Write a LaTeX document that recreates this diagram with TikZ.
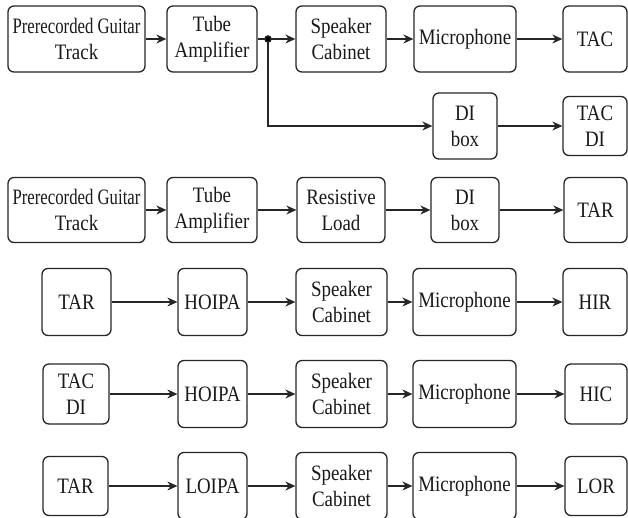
\documentclass[tikz,border=0pt]{standalone}
\usepackage{fontspec}
\usepackage{graphicx}
\setmainfont{Liberation Serif}[FakeStretch=0.86]
\usetikzlibrary{arrows.meta}
\definecolor{ln}{HTML}{262626}
\begin{document}
\begin{tikzpicture}[x=1pt,y=-1pt,
  bx/.style={draw=ln,line width=1.3pt,rounded corners=6pt,align=center,inner sep=0pt,
    text=black!90,font=\fontsize{22}{26}\selectfont},
  ar/.style={draw=ln,line width=1.2pt,-{Stealth[length=10pt,width=9pt]}},
  ln/.style={draw=ln,line width=1.2pt}]
\useasboundingbox (0,0) rectangle (628,517);
\newcommand{\pgt}{\scalebox{0.885}[1]{Prerecorded Guitar}\\Track}
% Row 1
\node[bx,minimum width=137pt,minimum height=66pt] (p1) at (76.5,39) {\pgt};
\node[bx,minimum width=90pt,minimum height=66pt] (t1) at (212,39) {Tube\\Amplifier};
\node[bx,minimum width=90pt,minimum height=66pt] (s1) at (341,39) {Speaker\\Cabinet};
\node[bx,minimum width=102pt,minimum height=66pt] (m1) at (465,39) {Microphone};
\node[bx,minimum width=64pt,minimum height=66pt] (tac) at (595,39) {TAC};
\coordinate (j) at (268,39);
% Row 2
\node[bx,minimum width=64pt,minimum height=66pt] (di1) at (465,126) {DI\\box};
\node[bx,minimum width=64pt,minimum height=59pt] (tacdi) at (595,126) {TAC\\DI};
\draw[ar] (p1) -- (t1);
\draw[ln] (t1) -- (j);
\draw[ar] (j) -- (s1);
\draw[ar] (s1) -- (m1);
\draw[ar] (m1) -- (tac);
\draw[ar] (j) |- (di1);
\draw[ar] (di1) -- (tacdi);
\fill[ln] (j) circle (3.2pt);
% Row 3
\node[bx,minimum width=137pt,minimum height=65pt] (p3) at (76.5,210) {\pgt};
\node[bx,minimum width=90pt,minimum height=65pt] (t3) at (212,210) {Tube\\Amplifier};
\node[bx,minimum width=88pt,minimum height=65pt] (r3) at (341,210) {Resistive\\Load};
\node[bx,minimum width=68pt,minimum height=65pt] (d3) at (465,210) {DI\\box};
\node[bx,minimum width=63pt,minimum height=65pt] (tar3) at (595.5,210) {TAR};
\draw[ar] (p3) -- (t3);
\draw[ar] (t3) -- (r3);
\draw[ar] (r3) -- (d3);
\draw[ar] (d3) -- (tar3);
% Row 4
\node[bx,minimum width=69pt,minimum height=67pt] (tar4) at (76.5,302) {TAR};
\node[bx,minimum width=69pt,minimum height=67pt] (h4) at (212.5,302) {HOIPA};
\node[bx,minimum width=91pt,minimum height=67pt] (s4) at (341.5,302) {Speaker\\Cabinet};
\node[bx,minimum width=103pt,minimum height=67pt] (m4) at (464.5,302) {Microphone};
\node[bx,minimum width=64pt,minimum height=67pt] (hir) at (595,302) {HIR};
\draw[ar] (tar4) -- (h4);
\draw[ar] (h4) -- (s4);
\draw[ar] (s4) -- (m4);
\draw[ar] (m4) -- (hir);
% Row 5
\node[bx,minimum width=66pt,minimum height=60pt] (tacdi5) at (76,394) {TAC\\DI};
\node[bx,minimum width=69pt,minimum height=67pt] (h5) at (212.5,394) {HOIPA};
\node[bx,minimum width=91pt,minimum height=67pt] (s5) at (341.5,394) {Speaker\\Cabinet};
\node[bx,minimum width=103pt,minimum height=67pt] (m5) at (464.5,394) {Microphone};
\node[bx,minimum width=62pt,minimum height=60pt] (hic) at (596,394) {HIC};
\draw[ar] (tacdi5) -- (h5);
\draw[ar] (h5) -- (s5);
\draw[ar] (s5) -- (m5);
\draw[ar] (m5) -- (hic);
% Row 6
\node[bx,minimum width=65pt,minimum height=59pt] (tar6) at (75.5,486) {TAR};
\node[bx,minimum width=69pt,minimum height=67pt] (l6) at (212.5,486) {LOIPA};
\node[bx,minimum width=91pt,minimum height=67pt] (s6) at (341.5,486) {Speaker\\Cabinet};
\node[bx,minimum width=103pt,minimum height=67pt] (m6) at (464.5,486) {Microphone};
\node[bx,minimum width=62pt,minimum height=59pt] (lor) at (596,486) {LOR};
\draw[ar] (tar6) -- (l6);
\draw[ar] (l6) -- (s6);
\draw[ar] (s6) -- (m6);
\draw[ar] (m6) -- (lor);
\end{tikzpicture}
\end{document}
